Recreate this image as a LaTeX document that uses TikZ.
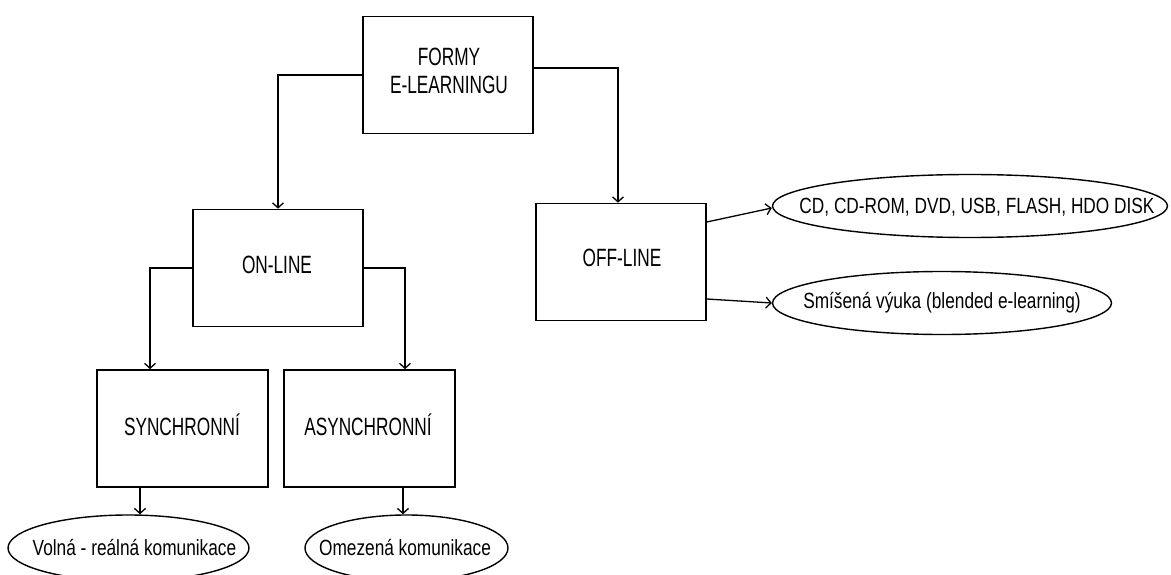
\documentclass[tikz,border=0pt]{standalone}
\usepackage{fontspec}
\setmainfont{Liberation Sans}
\newfontfamily\boxfont[FakeStretch=0.69]{Liberation Sans}
\newfontfamily\ovalfont[FakeStretch=0.785]{Liberation Sans}
\usetikzlibrary{arrows.meta,shapes.geometric,calc}
\begin{document}
\begin{tikzpicture}[x=1pt,y=-1pt,
  box/.style={draw, line width=1.6pt, minimum width=170pt, minimum height=117pt, inner sep=0pt},
  boxtext/.style={inner sep=0pt, align=center, font=\boxfont\fontsize{25}{28}\selectfont},
  oval/.style={draw, ellipse, line width=1.4pt, inner sep=0pt},
  ovaltext/.style={inner sep=0pt, font=\ovalfont\fontsize{22}{26}\selectfont},
  conn/.style={line width=1.3pt, -{Straight Barb[length=5pt,width=11pt]}}]
\useasboundingbox (0,0) rectangle (1171,575);
% boxes
\node[box] (formy) at (448,75) {};
\node[box] (online) at (278,268) {};
\node[box] (offline) at (621,262) {};
\node[box, minimum width=171pt] (synch) at (182.5,428.5) {};
\node[box, minimum width=171pt] (asynch) at (369.5,428.5) {};
\node[boxtext] (formyT) at (449,71) {FORMY\\E-LEARNINGU};
\node[boxtext] (onlineT) at (277,265) {ON-LINE};
\node[boxtext] (offlineT) at (622,258) {OFF-LINE};
\node[boxtext] (synchT) at (182,425) {SYNCHRONNÍ};
\node[boxtext] (asynchT) at (368,425) {ASYNCHRONNÍ};
% ovals
\node[oval, minimum width=395pt, minimum height=63pt] (cd) at (970,206) {};
\node[oval, minimum width=339pt, minimum height=63pt] (smis) at (942,303) {};
\node[oval, minimum width=241pt, minimum height=66pt] (volna) at (128.5,548) {};
\node[oval, minimum width=203pt, minimum height=66pt] (omez) at (406.5,548) {};
\node[ovaltext] (cdT) at (977,207) {CD, CD-ROM, DVD, USB, FLASH, HDO DISK};
\node[ovaltext] (smisT) at (942,303) {Smíšená výuka (blended e-learning)};
\node[ovaltext] (volnaT) at (134.5,548) {Volná - reálná komunikace};
\node[ovaltext] (omezT) at (405,548) {Omezená komunikace};
% connectors
\draw[conn] (formy.west) -| (online.north);
\coordinate (fe) at ($(formy.east)+(0,-7)$);
\draw[conn] (fe) -| ($(offline.north)+(-3,0)$);
\coordinate (sTop) at ($(synch.north)+(-32.5,0)$);
\draw[conn] (online.west) -| (sTop);
\coordinate (aTop) at ($(asynch.north)+(35.5,0)$);
\draw[conn] (online.east) -| (aTop);
\coordinate (sBot) at ($(synch.south)+(-42.5,0)$);
\draw[conn] (sBot) -- (sBot |- volna.north);
\coordinate (aBot) at ($(asynch.south)+(33.5,0)$);
\draw[conn] (aBot) -- (aBot |- omez.north);
\coordinate (o1) at ($(offline.east)+(0,-40)$);
\draw[conn] (o1) -- ($(cd.west)+(0,2)$);
\coordinate (o2) at ($(offline.east)+(0,37)$);
\draw[conn] (o2) -- (smis.west);
\end{tikzpicture}
\end{document}
